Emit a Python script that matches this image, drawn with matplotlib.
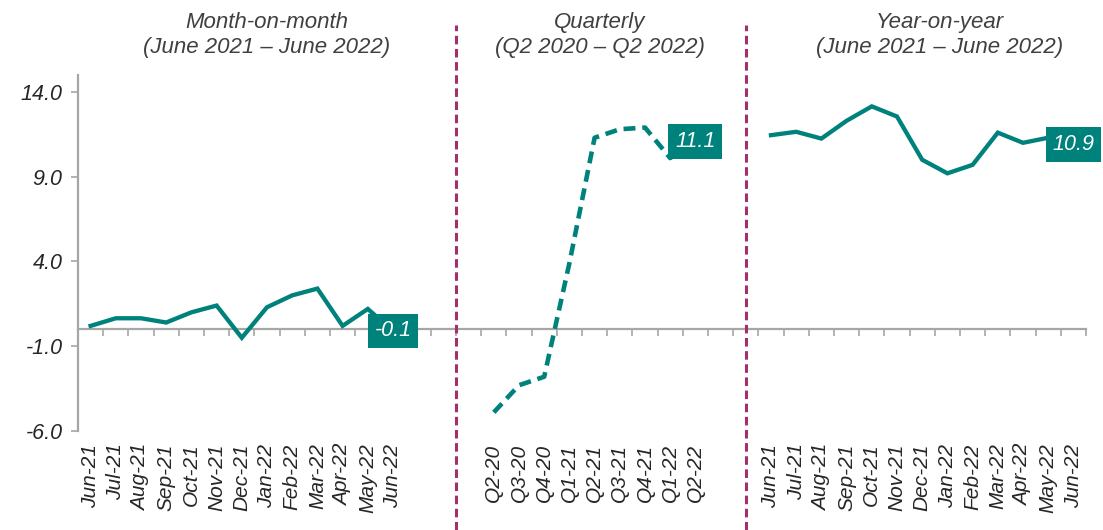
import matplotlib
matplotlib.use("Agg")
import matplotlib.pyplot as plt
import matplotlib.transforms as mtransforms
import numpy as np

plt.rcParams['font.family'] = ['Liberation Sans', 'DejaVu Sans']

# ---------------- data ----------------
mom_labels = ["Jun-21", "Jul-21", "Aug-21", "Sep-21", "Oct-21", "Nov-21", "Dec-21",
              "Jan-22", "Feb-22", "Mar-22", "Apr-22", "May-22", "Jun-22"]
mom_values = [0.2, 0.65, 0.65, 0.4, 1.0, 1.4, -0.5, 1.3, 2.0, 2.4, 0.2, 1.2, -0.1]

qtr_labels = ["Q2-20", "Q3-20", "Q4-20", "Q1-21", "Q2-21", "Q3-21", "Q4-21", "Q1-22", "Q2-22"]
qtr_values = [-4.9, -3.3, -2.8, 3.9, 11.3, 11.8, 11.9, 10.1, 11.1]

yoy_labels = ["Jun-21", "Jul-21", "Aug-21", "Sep-21", "Oct-21", "Nov-21", "Dec-21",
              "Jan-22", "Feb-22", "Mar-22", "Apr-22", "May-22", "Jun-22"]
yoy_values = [11.45, 11.65, 11.25, 12.3, 13.15, 12.55, 10.0, 9.2, 9.7, 11.6, 11.0, 11.3, 10.9]

titles = ["Month-on-month\n(June 2021 \u2013 June 2022)",
          "Quarterly\n(Q2 2020 \u2013 Q2 2022)",
          "Year-on-year\n(June 2021 \u2013 June 2022)"]
y_ticks = [-6, -1, 4, 9, 14]

# ---------------- layout ----------------
mom_start, qtr_start, yoy_start, n_cat = 0, 16, 27, 40
mom_x = np.arange(len(mom_values)) + mom_start
qtr_x = np.arange(len(qtr_values)) + qtr_start
yoy_x = np.arange(len(yoy_values)) + yoy_start
divider_x = [qtr_start - 1.5, yoy_start - 1.0]
title_x = [7.0, 20.2, 33.7]

teal = "#00827C"
divider_col = "#A3306A"
axis_col = "#A6A6A6"
text_col = "#262626"

W, H = 1103, 530
fig = plt.figure(figsize=(W / 100, H / 100), dpi=100)
ax = fig.add_axes([78 / W, (H - 431) / H, (1086 - 78) / W, (431 - 75) / H])

ax.set_xlim(-0.5, n_cat - 0.5)
ax.set_ylim(-6, 15)

# lines
ax.plot(mom_x, mom_values, color=teal, lw=3.1, solid_joinstyle='miter', zorder=3)
ax.plot(qtr_x, qtr_values, color=teal, lw=3.3, linestyle=(0, (2.6, 1.5)),
        dash_capstyle='butt', zorder=3)
ax.plot(yoy_x, yoy_values, color=teal, lw=3.1, solid_joinstyle='miter', zorder=3)

# end labels
lab_kw = dict(ha='center', va='center', color='white', fontsize=15.5, style='italic',
              zorder=5,
              bbox=dict(boxstyle='square,pad=0.32', fc=teal, ec='none'))
ax.text(mom_x[-1], mom_values[-1], f"{mom_values[-1]:.1f}", **lab_kw)
ax.text(qtr_x[-1], qtr_values[-1], f"{qtr_values[-1]:.1f}", **lab_kw)
ax.text(yoy_x[-1], yoy_values[-1], f"{yoy_values[-1]:.1f}", **lab_kw)

# spines
for s in ['top', 'right']:
    ax.spines[s].set_visible(False)
ax.spines['left'].set_color(axis_col)
ax.spines['left'].set_linewidth(1.6)
ax.spines['bottom'].set_position(('data', 0))
ax.spines['bottom'].set_color(axis_col)
ax.spines['bottom'].set_linewidth(1.6)
ax.spines['bottom'].set_zorder(2)

# y ticks
ax.set_yticks(y_ticks)
ax.set_yticklabels([f"{v:.1f}" for v in y_ticks], fontsize=15.5, style='italic', color=text_col)
ax.tick_params(axis='y', length=5, width=1.2, color=axis_col, pad=6)

# x ticks: boundaries on zero line, labels at bottom
ax.set_xticks(np.arange(-0.5, n_cat, 1.0), minor=True)
ax.set_xticks([])
ax.tick_params(axis='x', which='minor', length=5, width=1.2, color=axis_col, direction='out')

sec = ax.secondary_xaxis(0.0)
all_x = list(mom_x) + list(qtr_x) + list(yoy_x)
all_lab = mom_labels + qtr_labels + yoy_labels
sec.set_xticks(all_x)
sec.set_xticklabels(all_lab, rotation=90, fontsize=15, style='italic', color=text_col)
sec.tick_params(axis='x', length=0, pad=9)
sec.spines['bottom'].set_visible(False)

# dividers spanning the figure height
trans = mtransforms.blended_transform_factory(ax.transData, fig.transFigure)
for dx in divider_x:
    ax.plot([dx, dx], [0, 1 - 25 / H], transform=trans, color=divider_col, lw=2.2,
            linestyle=(0, (2.8, 1.5)), clip_on=False, zorder=4)

# titles
for tx, tt in zip(title_x, titles):
    ax.text(tx, 1 - 35 / H, tt, transform=trans, ha='center', va='center',
            fontsize=16, style='italic', color="#404040", linespacing=1.25)

fig.savefig("out.png", dpi=100, facecolor='white')
